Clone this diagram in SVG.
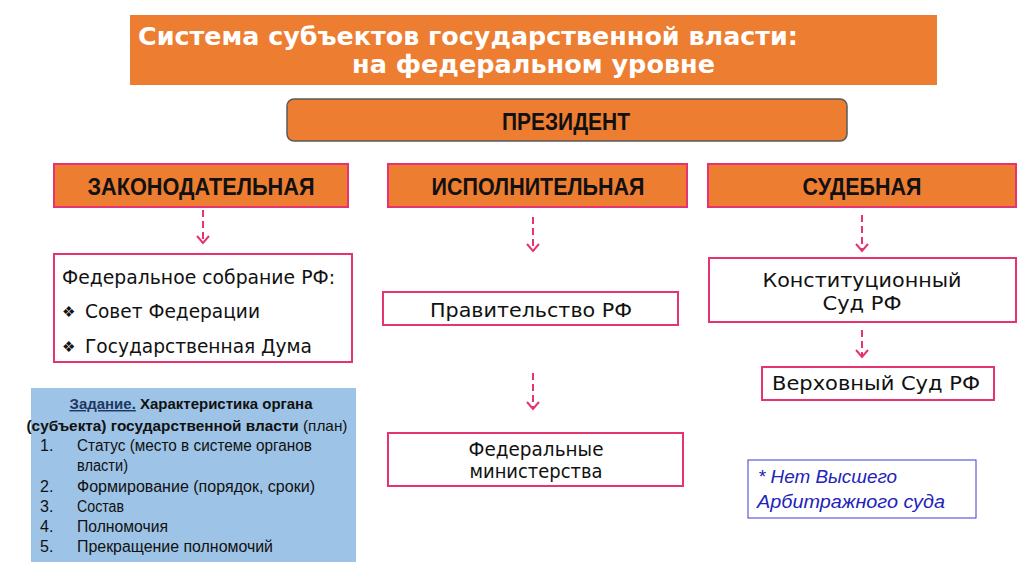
<svg xmlns="http://www.w3.org/2000/svg" width="1024" height="574" viewBox="0 0 1024 574">
<style>
.orange{fill:#ED7D31;}
.branch{fill:#ED7D31;stroke:#E63372;stroke-width:2;}
.wbox{fill:#FFFFFF;stroke:#E63372;stroke-width:2;}
.title{font-family:"DejaVu Sans",sans-serif;font-weight:bold;font-size:25px;fill:#FFFFFF;}
.head{font-family:"Liberation Sans",Arial,sans-serif;font-weight:bold;font-size:24px;fill:#111111;text-anchor:middle;}
.body{font-family:"DejaVu Sans",Verdana,sans-serif;font-size:19.5px;fill:#111111;}
.bul{font-family:"DejaVu Sans",sans-serif;font-size:15px;fill:#111111;}
.mid{text-anchor:middle;}
.task{font-family:"Liberation Sans",Arial,sans-serif;font-size:16px;fill:#111111;}
.taskh{font-family:"Liberation Sans",Arial,sans-serif;font-size:14.5px;fill:#111111;text-anchor:middle;}
.note{font-family:"Liberation Sans",Arial,sans-serif;font-style:italic;font-size:19px;fill:#2222BB;}
.conn{stroke:#E63372;stroke-width:2;fill:none;stroke-dasharray:7,4;}
</style>
<defs>
<marker id="chev" viewBox="-1 -8 10 16" refX="7" refY="0" markerWidth="10" markerHeight="16" markerUnits="userSpaceOnUse" orient="auto">
<path d="M0,-6 L7,0 L0,6" fill="none" stroke="#E63372" stroke-width="2"/>
</marker>
</defs>
<rect width="1024" height="574" fill="#FFFFFF"/>

<g id="title">
<rect class="orange" x="130" y="15" width="807" height="70"/>
<text class="title" x="138" y="45" textLength="660" lengthAdjust="spacingAndGlyphs">Система субъектов государственной власти:</text>
<text class="title" x="352" y="73" textLength="363" lengthAdjust="spacingAndGlyphs">на федеральном уровне</text>
</g>

<g id="president">
<rect x="287" y="99" width="560" height="42" rx="7" ry="7" fill="#ED7D31" stroke="#5A5A5A" stroke-width="1.5"/>
<text class="head" x="566" y="130" textLength="128" lengthAdjust="spacingAndGlyphs">ПРЕЗИДЕНТ</text>
</g>

<g id="legislative">
<rect class="branch" x="54" y="164" width="294" height="43"/>
<text class="head" x="201" y="195" textLength="227" lengthAdjust="spacingAndGlyphs">ЗАКОНОДАТЕЛЬНАЯ</text>
</g>
<g id="executive">
<rect class="branch" x="388" y="164" width="299" height="43"/>
<text class="head" x="538" y="195" textLength="213" lengthAdjust="spacingAndGlyphs">ИСПОЛНИТЕЛЬНАЯ</text>
</g>
<g id="judicial">
<rect class="branch" x="708" y="164" width="308" height="43"/>
<text class="head" x="862" y="195" textLength="119" lengthAdjust="spacingAndGlyphs">СУДЕБНАЯ</text>
</g>

<g id="federal-assembly">
<rect class="wbox" x="54" y="254" width="298" height="108"/>
<text class="body" x="62" y="284" textLength="273" lengthAdjust="spacingAndGlyphs">Федеральное собрание РФ:</text>
<text class="bul" x="62" y="317">❖</text>
<text class="body" x="85" y="318" textLength="175" lengthAdjust="spacingAndGlyphs">Совет Федерации</text>
<text class="bul" x="62" y="352">❖</text>
<text class="body" x="85" y="353" textLength="227" lengthAdjust="spacingAndGlyphs">Государственная Дума</text>
</g>

<g id="government">
<rect class="wbox" x="383" y="292" width="295" height="33"/>
<text class="body mid" x="531" y="317" textLength="202" lengthAdjust="spacingAndGlyphs">Правительство РФ</text>
</g>

<g id="ministries">
<rect class="wbox" x="388" y="433" width="295" height="53"/>
<text class="body mid" x="536" y="456" textLength="135" lengthAdjust="spacingAndGlyphs">Федеральные</text>
<text class="body mid" x="536" y="478" textLength="133" lengthAdjust="spacingAndGlyphs">министерства</text>
</g>

<g id="constitutional-court">
<rect class="wbox" x="709" y="258" width="307" height="64"/>
<text class="body mid" x="862" y="287" textLength="199" lengthAdjust="spacingAndGlyphs">Конституционный</text>
<text class="body mid" x="862" y="310" textLength="79" lengthAdjust="spacingAndGlyphs">Суд РФ</text>
</g>

<g id="supreme-court">
<rect class="wbox" x="762" y="367" width="232" height="33"/>
<text class="body mid" x="876" y="390" textLength="208" lengthAdjust="spacingAndGlyphs">Верховный Суд РФ</text>
</g>

<g id="note">
<rect x="748" y="460" width="228" height="58" fill="#FFFFFF" stroke="#3A3AD0" stroke-width="1"/>
<text class="note" x="758" y="483" textLength="139" lengthAdjust="spacingAndGlyphs">* Нет Высшего</text>
<text class="note" x="757" y="508" textLength="188" lengthAdjust="spacingAndGlyphs">Арбитражного суда</text>
</g>

<g id="task">
<rect x="31" y="388" width="325" height="174" fill="#9DC3E6"/>
<text class="taskh" x="191" y="409" font-weight="bold" textLength="243" lengthAdjust="spacingAndGlyphs"><tspan fill="#1F3864" text-decoration="underline">Задание.</tspan> Характеристика органа</text>
<text class="taskh" x="187" y="431" textLength="321" lengthAdjust="spacingAndGlyphs"><tspan font-weight="bold">(субъекта) государственной власти</tspan> (план)</text>
<text class="task" x="40" y="451">1.</text>
<text class="task" x="77" y="451" textLength="235" lengthAdjust="spacingAndGlyphs">Статус (место в системе органов</text>
<text class="task" x="77" y="471" textLength="51" lengthAdjust="spacingAndGlyphs">власти)</text>
<text class="task" x="40" y="492">2.</text>
<text class="task" x="77" y="492" textLength="238" lengthAdjust="spacingAndGlyphs">Формирование (порядок, сроки)</text>
<text class="task" x="40" y="512">3.</text>
<text class="task" x="77" y="512" textLength="47" lengthAdjust="spacingAndGlyphs">Состав</text>
<text class="task" x="40" y="532">4.</text>
<text class="task" x="77" y="532" textLength="91" lengthAdjust="spacingAndGlyphs">Полномочия</text>
<text class="task" x="40" y="552">5.</text>
<text class="task" x="77" y="552" textLength="196" lengthAdjust="spacingAndGlyphs">Прекращение полномочий</text>
</g>

<g id="connectors">
<line class="conn" x1="203" y1="210" x2="203" y2="243" marker-end="url(#chev)"/>
<line class="conn" x1="533" y1="217" x2="533" y2="251" marker-end="url(#chev)"/>
<line class="conn" x1="862" y1="215" x2="862" y2="251" marker-end="url(#chev)"/>
<line class="conn" x1="533" y1="373" x2="533" y2="409" marker-end="url(#chev)"/>
<line class="conn" x1="862" y1="330" x2="862" y2="357" marker-end="url(#chev)"/>
</g>
</svg>
